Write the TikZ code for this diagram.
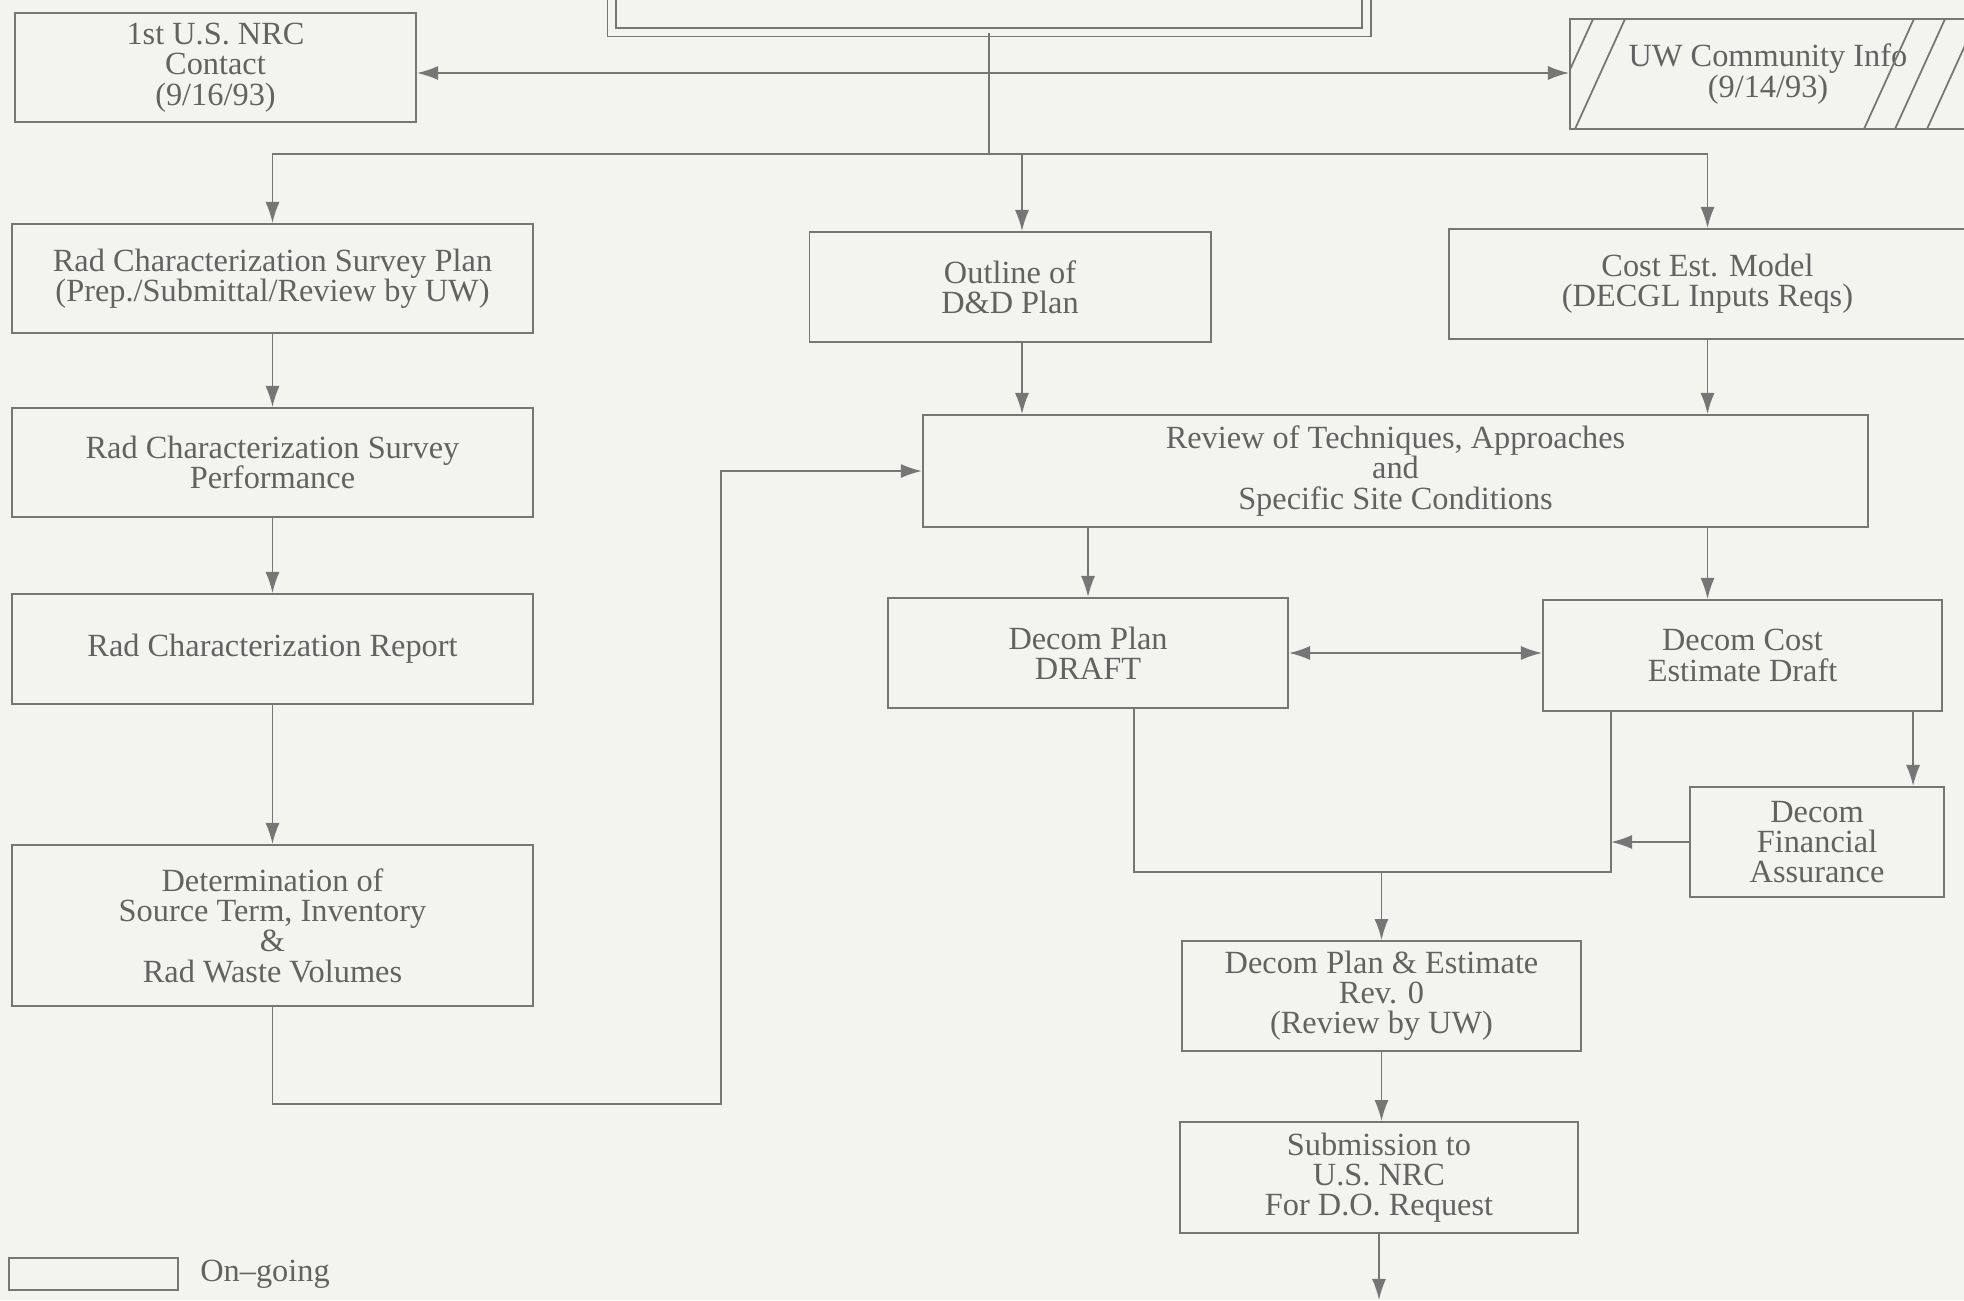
\documentclass[tikz,border=0pt]{standalone}
\usepackage{fontspec}
\setmainfont{Liberation Serif}
\usetikzlibrary{arrows.meta,positioning}
\definecolor{paper}{RGB}{243,243,240}
\definecolor{ink}{RGB}{118,118,118}
\definecolor{txt}{RGB}{98,98,98}

\begin{document}
\begin{tikzpicture}[x=0.01cm,y=-0.01cm,
    box/.style={draw=ink,line width=0.5pt,align=center,text=txt,inner sep=2pt,
      font=\fontsize{9.2}{8.6}\selectfont},
    link/.style={draw=ink,line width=0.5pt},
    >={Latex[length=6pt,width=4pt]}]
        \useasboundingbox (0,0) rectangle (1964,1300);
        \clip (0,0) rectangle (1964,1300);
        \fill[paper] (0,0) rectangle (1964,1300);

        \node[box,minimum width=7.54cm,minimum height=1.6cm,double=paper,double distance=2pt] (start) at (989,-48) {};
        \node[box,minimum width=4.01cm,minimum height=1.09cm] (nrc) at (215.5,67.5) {1st U.S. NRC\\Contact\\(9/16/93)};
        \node[box,minimum width=3.96cm,minimum height=1.10cm] (uw) at (1768,74) {UW Community Info\\(9/14/93)};
        \begin{scope}
          \clip (uw.south west) rectangle (uw.north east);
          \foreach \h in {1543,1575,1864,1895,1927}
            \draw[link] (\h,129) -- ++(50,-110);
        \end{scope}

        \node[box,minimum width=5.21cm,minimum height=1.09cm] (plan) at (272.5,278.5) {Rad Characterization Survey Plan\\(Prep./Submittal/Review by UW)};
        \node[box,minimum width=5.2cm,minimum height=1.09cm] (perf) at (272.5,462.5) {Rad Characterization Survey\\Performance};
        \node[box,minimum width=5.21cm,minimum height=1.1cm] (report) at (272.5,649) {Rad Characterization Report};
        \node[box,minimum width=5.21cm,minimum height=1.61cm] (determ) at (272.5,925.5) {Determination of\\Source Term, Inventory\\\&\\Rad Waste Volumes};

        \node[box,minimum width=4.01cm,minimum height=1.1cm] (outline) at (1010,287) {Outline of\\D\&D Plan};
        \node[box,minimum width=5.17cm,minimum height=1.1cm] (cost) at (1707.5,284) {Cost Est. Model\\(DECGL Inputs Reqs)};
        \node[box,minimum width=9.45cm,minimum height=1.12cm] (review) at (1395.5,471) {Review of Techniques, Approaches\\and\\Specific Site Conditions};
        \node[box,minimum width=4.0cm,minimum height=1.1cm] (draft) at (1088,653) {Decom Plan\\DRAFT};
        \node[box,minimum width=3.99cm,minimum height=1.11cm] (costdraft) at (1742.5,655.5) {Decom Cost\\Estimate Draft};
        \node[box,minimum width=2.54cm,minimum height=1.1cm] (fin) at (1817,842) {Decom\\Financial\\Assurance};
        \node[box,minimum width=3.99cm,minimum height=1.1cm] (rev) at (1381.5,996) {Decom Plan \& Estimate\\Rev. 0\\(Review by UW)};
        \node[box,minimum width=3.98cm,minimum height=1.11cm] (sub) at (1379,1177.5) {Submission to\\U.S. NRC\\For D.O. Request};

        \node[box,minimum width=1.69cm,minimum height=0.32cm] (key) at (93.5,1274) {};
        \node[right=0.09cm of key,text=txt,font=\fontsize{9.2}{8.6}\selectfont] (keytext) {On--going};

        \coordinate (tee) at (989,73);
        \coordinate (br) at (989,154);
        \coordinate (fb) at (721,1104);
        \coordinate (ml) at (1134,872);
        \coordinate (mr) at (1611,872);
        \coordinate (oc) at ([xshift=0.12cm]outline.south);
        \coordinate (fa) at ([xshift=0.96cm]fin.north);
        \coordinate (out) at (1376,1300);

        \draw[link] (start.south) -- (br);
        \draw[link,->] (tee) -- (tee -| nrc.east);
        \draw[link,->] (tee) -- (tee -| uw.west);
        \draw[link,->] (br) -| (plan.north);
        \draw[link,->] (br) -| ([xshift=0.12cm]outline.north);
        \draw[link,->] (br) -| (cost.north);

        \draw[link,->] (plan) -- (perf);
        \draw[link,->] (perf) -- (report);
        \draw[link,->] (report) -- (determ);
        \draw[link,->] (determ.south) |- (fb) |- (review.west);

        \draw[link,->] (oc) -- (oc |- review.north);
        \draw[link,->] (cost.south) -- (cost.south |- review.north);
        \draw[link,->] (review.south -| draft.north) -- (draft.north);
        \draw[link,->] (review.south -| cost.south) -- (costdraft.north -| cost.south);
        \draw[link,<->] (draft.east) -- (draft.east -| costdraft.west);
        \draw[link,->] (fa |- costdraft.south) -- (fa);

        \draw[link] (draft.south -| ml) -- (ml) -- (mr) -- (mr |- costdraft.south);
        \draw[link,->] (fin.west) -- (fin.west -| mr);
        \draw[link,->] (rev.north |- ml) -- (rev.north);
        \draw[link,->] (rev.south) -- (rev.south |- sub.north);
        \draw[link,->] (sub.south) -- (sub.south |- out);
      \end{tikzpicture}
\end{document}
